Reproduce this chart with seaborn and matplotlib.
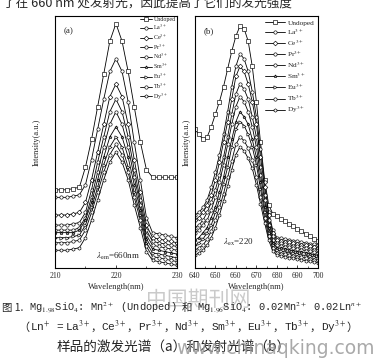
import matplotlib
matplotlib.use('Agg')
import matplotlib.pyplot as plt
import seaborn as sns

# ---- data (intensity in arbitrary units 0-100) ----
series = ['Undoped', 'La', 'Ce', 'Pr', 'Nd', 'Sm', 'Eu', 'Tb', 'Dy']
labels = ['Undoped'] + [s + '$^{3+}$' for s in series[1:]]
markers = ['s', 'o', 'D', 'o', 'o', '*', '>', 'o', 'h']

# (a) excitation spectra, lambda_em = 660 nm
wl_exc = list(range(210, 231))
exc_undoped = [31, 31, 31, 31.5, 32, 40, 51, 64, 77, 90, 97, 90, 78, 64, 50, 39, 36, 36, 36, 36, 36]
exc_la = [28, 28, 28, 28.5, 29, 33, 43, 55, 67, 78, 83, 78, 66, 50, 35, 20, 14, 13.5, 13, 12.5, 12]
exc_ce = [21, 21, 21, 21.5, 22, 26, 35, 46, 57, 68, 73, 68, 57, 43, 30, 17, 12, 11.5, 11, 10.5, 10]
exc_pr = [17, 17, 17, 17.5, 18, 22, 31, 42, 52, 62, 67, 62, 52, 39, 27, 15, 10.5, 10, 9.5, 9, 8.5]
exc_nd = [15, 15, 15, 15, 16, 20, 28, 38, 48, 57, 62, 57, 48, 36, 25, 13, 9, 8.5, 8, 7.5, 7]
exc_sm = [14, 14, 14, 14, 15, 19, 26, 35, 44, 52, 56, 52, 44, 33, 23, 11.5, 7.5, 7, 6.5, 6, 5.5]
exc_eu = [12, 12, 12, 12.5, 13, 17, 24, 32, 41, 48, 52, 48, 40, 30, 21, 10, 6, 5.5, 5, 4.5, 4]
exc_tb = [10, 10, 10, 10.5, 11, 15, 22, 30, 38, 45, 49, 45, 38, 28, 19, 8.5, 4.5, 4, 3.5, 3, 2.5]
exc_dy = [7, 7, 7, 7.5, 8, 12, 19, 27, 35, 42, 46, 42, 35, 25, 16, 6.5, 3, 2.5, 2, 1.5, 1]

# (b) emission spectra, lambda_ex = 220 nm
wl_em = list(range(640, 701, 2))
em_undoped = [55, 53, 51, 52, 56, 61, 66, 72, 79, 86, 92, 96, 95, 90, 80, 66, 50, 35, 25, 21.5, 20.5,
              19.5, 18.5, 17.5, 16.5, 15.5, 14.5, 13.5, 12.5, 11.5, 10.5]
em_la = [21, 22, 24, 27, 32, 38, 45, 53, 62, 72, 80, 85, 83, 78, 70, 60, 47, 34, 22, 15, 12,
         11.7, 11.4, 11.1, 10.8, 10.5, 10.2, 9.9, 9.6, 9.3, 9.0]
em_ce = [19, 20, 22, 25, 29, 35, 42, 50, 58, 67, 76, 80, 78, 73, 66, 57, 44, 32, 21, 14, 11,
         10.7, 10.4, 10.1, 9.8, 9.5, 9.2, 8.9, 8.6, 8.3, 8.0]
em_pr = [16, 17, 19, 22, 26, 31, 37, 44, 52, 61, 69, 73, 71, 67, 60, 52, 40, 29, 19, 12.5, 10,
         9.7, 9.4, 9.1, 8.8, 8.5, 8.2, 7.9, 7.6, 7.3, 7.0]
em_nd = [14, 15, 17, 19, 23, 28, 34, 41, 49, 57, 64, 68, 66, 62, 56, 48, 37, 27, 17, 11, 9,
         8.7, 8.4, 8.1, 7.8, 7.5, 7.2, 6.9, 6.6, 6.3, 6.0]
em_sm = [11, 12, 14, 16, 20, 24, 30, 36, 44, 51, 58, 62, 60, 57, 51, 44, 34, 24, 16, 10, 8,
         7.7, 7.4, 7.1, 6.8, 6.5, 6.2, 5.9, 5.6, 5.3, 5.0]
em_eu = [9, 10, 11.5, 14, 17, 22, 27, 33.5, 40, 48, 55, 58, 56.5, 53, 48, 41, 31.5, 22, 14, 9, 7,
         6.7, 6.4, 6.1, 5.8, 5.5, 5.2, 4.9, 4.6, 4.3, 4.0]
em_tb = [7, 8, 9, 11.5, 14.5, 19, 24, 29.5, 36, 42.5, 49, 52, 50.5, 47.5, 43, 36, 28, 20, 12.5, 8, 6,
         5.7, 5.4, 5.1, 4.8, 4.5, 4.2, 3.9, 3.6, 3.3, 3.0]
em_dy = [5, 6, 7, 9, 12, 16, 21, 26.5, 32.5, 39, 45, 48, 46.5, 43.5, 39.5, 33, 25.5, 18, 11, 6.7, 5,
         4.7, 4.4, 4.1, 3.8, 3.5, 3.2, 2.9, 2.6, 2.3, 2.0]

exc_curves = [exc_undoped, exc_la, exc_ce, exc_pr, exc_nd, exc_sm, exc_eu, exc_tb, exc_dy]
em_curves = [em_undoped, em_la, em_ce, em_pr, em_nd, em_sm, em_eu, em_tb, em_dy]

# ---- style ----
sns.set_style('ticks')
plt.rcParams['font.family'] = ['Liberation Serif', 'Noto Sans CJK SC', 'DejaVu Sans']
plt.rcParams['mathtext.fontset'] = 'stix'
plt.rcParams['xtick.direction'] = 'in'
plt.rcParams['axes.linewidth'] = 0.8
plt.rcParams['axes.edgecolor'] = 'black'

fig = plt.figure(figsize=(3.74, 3.63), dpi=100)
ax_a = fig.add_axes([0.147, 0.262, 0.326, 0.694])
ax_b = fig.add_axes([0.521, 0.262, 0.329, 0.694])


def draw_panel(ax, wl, curves, legend_fs, spacing, hlen, ypad, pad_top):
    for vals, lab, mk in zip(curves, labels, markers):
        sns.lineplot(x=wl, y=vals, ax=ax, color='black', linewidth=0.6, marker=mk,
                     markersize=2.4, markerfacecolor='white', markeredgecolor='black',
                     markeredgewidth=0.45, label=lab)
    ax.set_ylim(0, 100)
    ax.set_yticks([])
    ax.set_ylabel('Intensity(a.u.)', fontsize=6, labelpad=ypad)
    ax.set_xlabel('Wavelength(nm)', fontsize=6, labelpad=2)
    ax.tick_params(axis='x', labelsize=5.5, length=2.5, width=0.6, pad=3)
    ax.tick_params(axis='x', which='minor', length=1.5, width=0.5)
    ax.legend(loc='upper right', frameon=False, handlelength=hlen,
              prop={'family': 'Liberation Serif', 'size': legend_fs},
              handletextpad=0.3, labelspacing=spacing, borderaxespad=pad_top, borderpad=0.1)


draw_panel(ax_a, wl_exc, exc_curves, 4.3, 0.03, 2.0, 10, 0.1)
ax_a.set_xlim(210, 230)
ax_a.set_xticks([210, 220, 230])
ax_a.set_xticks([215, 225], minor=True)
ax_a.text(0.07, 0.955, '(a)', transform=ax_a.transAxes, fontsize=6.5, va='top')
ax_a.text(0.52, 0.045, r'$\lambda_{\rm em}$=660nm', transform=ax_a.transAxes,
          fontsize=6.5, ha='center', va='center', zorder=5)

draw_panel(ax_b, wl_em, em_curves, 5.3, 0.2, 2.7, 3, 0.4)
ax_b.set_xlim(640, 700)
ax_b.set_xticks(range(640, 701, 10))
ax_b.set_xticks(range(645, 700, 10), minor=True)
ax_b.text(0.07, 0.955, '(b)', transform=ax_b.transAxes, fontsize=6.5, va='top')
ax_b.text(0.35, 0.10, r'$\lambda_{\rm ex}$=220', transform=ax_b.transAxes,
          fontsize=6.5, ha='center', va='center', zorder=5)

# ---- surrounding page text ----
cjk = ['Noto Sans CJK SC', 'DejaVu Sans']
mono = ['Liberation Mono']
renderer = fig.canvas.get_renderer()


def write_line(pieces, y_px, fs, x_px=None, center_px=None):
    # lay text pieces side by side on one baseline; gap is extra space before a piece, in px
    y = 1 - y_px / 363
    placed = []
    for s, fam, gap in pieces:
        t = fig.text(0, y, s, fontsize=fs, family=fam, va='baseline', ha='left')
        placed.append((t, gap / 374, t.get_window_extent(renderer).width / fig.bbox.width))
    total = sum(g + w for _, g, w in placed)
    x = x_px / 374 if x_px is not None else center_px / 374 - total / 2
    for t, g, w in placed:
        x += g
        t.set_x(x)
        x += w


fig.text(3 / 374, 1 - 10 / 363, '了在 660 nm 处发射光，因此提高了它们的发光强度',
         fontsize=9.1, family=cjk, va='bottom', ha='left')
fig.text(0.53, 1 - 300 / 363, '中国期刊网', fontsize=15, family=cjk, color='#bdbdbd',
         ha='center', va='center', alpha=0.8)

line1 = [('图 1.', cjk, 0), ('Mg$_{1.98}$SiO$_4$: Mn$^{2+}$ (Undoped)', mono, 6), ('和', cjk, 5),
         ('Mg$_{1.96}$SiO$_4$: 0.02Mn$^{2+}$ 0.02Ln$^{n+}$', mono, 5)]
write_line(line1, 311, 7.5, x_px=2)

ions = ['La', 'Ce', 'Pr', 'Nd', 'Sm', 'Eu', 'Tb', 'Dy']
line2 = [('（', cjk, 0), ('Ln$^{+}$ = ', mono, 0)]
for i, ion in enumerate(ions):
    line2.append((ion + '$^{3+}$', mono, 0))
    line2.append(('，' if i < len(ions) - 1 else '）', cjk, 0))
write_line(line2, 331, 8.0, center_px=188)

fig.text(57 / 374, 1 - 347 / 363, '样品的激发光谱（a）和发射光谱（b）',
         fontsize=9.8, family=cjk, ha='left', va='center')
fig.text(275 / 374, 1 - 348 / 363, 'www.chinaqking.com', fontsize=13.5,
         family=['DejaVu Sans'], color='#9a9a9a', ha='center', va='center', alpha=0.85)

fig.savefig('out.png', dpi=100)
